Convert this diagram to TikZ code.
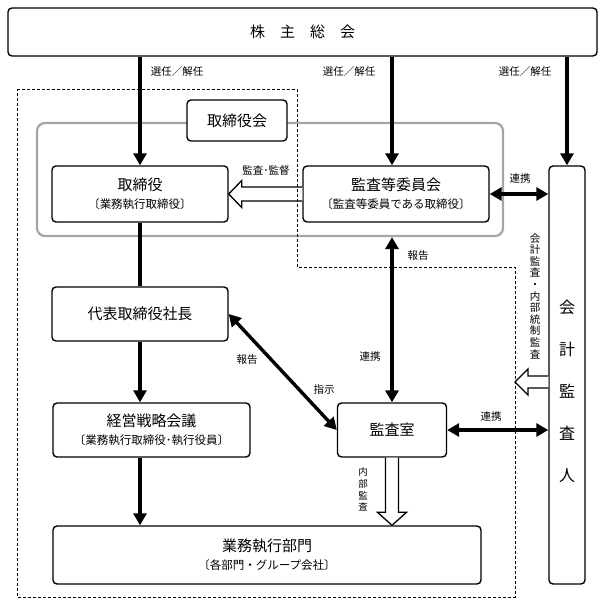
\documentclass[tikz,border=0pt]{standalone}
\usepackage{fontspec}
\setmainfont{Noto Sans CJK JP}
\usetikzlibrary{arrows.meta, calc}
\definecolor{boardline}{RGB}{165,165,165}

\tikzset{
  box/.style={draw, fill=white, line width=1.4pt, rounded corners=4pt, align=center, inner sep=0pt, font=\fontsize{15}{18}\selectfont},
  flow/.style={line width=3.4pt, -{Triangle[length=12pt,width=13pt]}},
  link/.style={line width=3.4pt, {Triangle[length=12pt,width=13pt]}-{Triangle[length=12pt,width=13pt]}},
  hollow/.style={draw, fill=white, line width=1.3pt, line join=miter},
  lbl/.style={font=\fontsize{10.5}{12}\selectfont, inner sep=0pt},
  vtext/.style={align=center, inner sep=0pt}
}
\newcommand\subline[1]{{\fontsize{11.5}{14}\selectfont #1}}

\begin{document}
\begin{tikzpicture}[x=1pt, y=-1pt]
\useasboundingbox (0,0) rectangle (606,605);

% board frame and boxes
\node[box, rounded corners=8pt, draw=boardline, line width=2.2pt, fill=none, minimum width=466pt, minimum height=113pt] (board) at (270,179.5) {};
\node[box, minimum width=589pt, minimum height=48pt] (soukai) at (302.5,32) {株　主　総　会};
\node[box, minimum width=100pt, minimum height=41pt] (torikai) at (237,120.5) {取締役会};
\node[box, minimum width=176pt, minimum height=56pt] (torishimari) at (140,194) {取締役\\\subline{〔業務執行取締役〕}};
\node[box, minimum width=186pt, minimum height=56pt] (kansa) at (396,194) {監査等委員会\\\subline{〔監査等委員である取締役〕}};
\node[box, minimum width=36pt, minimum height=418pt] (kaikei) at (567,375) {};
\node[box, minimum width=176pt, minimum height=54pt] (shacho) at (140,314) {代表取締役社長};
\node[box, minimum width=197pt, minimum height=54pt] (senryaku) at (151.5,430) {経営戦略会議\\\subline{〔業務執行取締役･執行役員〕}};
\node[box, minimum width=109pt, minimum height=54pt] (kansashitsu) at (392,430) {監査室};
\node[box, minimum width=428pt, minimum height=58pt] (gyomu) at (267,555) {業務執行部門\\\subline{〔各部門・グループ会社〕}};

% open arrows
\draw[hollow] ($(kansa.west)+(0,-7)$) -- ($(torishimari.east)+(13,-7)$) -- ($(torishimari.east)+(13,-13.5)$) -- (torishimari.east) -- ($(torishimari.east)+(13,13.5)$) -- ($(torishimari.east)+(13,7)$) -- ($(kansa.west)+(0,7)$);
\coordinate (audit) at (515,382);
\draw[hollow] ($(audit -| kaikei.west)+(0,-6)$) -- ($(audit)+(13,-6)$) -- ($(audit)+(13,-13)$) -- (audit) -- ($(audit)+(13,13)$) -- ($(audit)+(13,6)$) -- ($(audit -| kaikei.west)+(0,6)$);
\draw[hollow] ($(kansashitsu.south)+(-6.5,0)$) -- ($(gyomu.north -| kansashitsu)+(-6.5,-13)$) -- ($(gyomu.north -| kansashitsu)+(-14.5,-13)$) -- (gyomu.north -| kansashitsu) -- ($(gyomu.north -| kansashitsu)+(14.5,-13)$) -- ($(gyomu.north -| kansashitsu)+(6.5,-13)$) -- ($(kansashitsu.south)+(6.5,0)$);

% scope of the executive side
\draw[line width=1pt, dash pattern=on 3pt off 2pt] (17,89) -- (297,89) -- (297,267) -- (515,267) -- (515,597) -- (17,597) -- cycle;

% solid arrows
\draw[flow] (soukai.south -| torishimari) -- (torishimari.north);
\draw[flow] (soukai.south -| kansashitsu) -- (kansa.north -| kansashitsu);
\draw[flow] (soukai.south -| kaikei) -- (kaikei.north);
\draw[line width=3.4pt] (torishimari.south) -- (shacho.north);
\draw[flow] (shacho.south) -- (senryaku.north -| shacho);
\draw[flow] (senryaku.south -| shacho) -- (gyomu.north -| shacho);
\draw[link] (kansa.east) -- (kaikei.west |- kansa.east);
\draw[link] (board.south -| kansashitsu) -- (kansashitsu.north);
\draw[link] (shacho.east) -- (kansashitsu.west);
\draw[link] (kansashitsu.east) -- (kaikei.west |- kansashitsu.east);

% labels
\node[lbl] (sennin1) at (177,72) {選任／解任};
\node[lbl] (sennin2) at (349,72) {選任／解任};
\node[lbl] (sennin3) at (525,72) {選任／解任};
\node[lbl] (kantoku) at (266,171) {監査･監督};
\node[lbl] (renkei1) at (520,179) {連携};
\node[lbl] (hokoku1) at (418,256) {報告};
\node[lbl] (renkei2) at (370,357) {連携};
\node[lbl] (hokoku2) at (247,360) {報告};
\node[lbl] (shiji) at (324,390) {指示};
\node[lbl] (renkei3) at (491,417) {連携};
\node[vtext, font=\fontsize{10.5}{11.6}\selectfont] (kaikeikansa) at (535,296) {会\\計\\監\\査\\・\\内\\部\\統\\制\\監\\査};
\node[vtext, font=\fontsize{9.5}{11.7}\selectfont] (naibu) at (363,489.5) {内\\部\\監\\査};
\node[vtext, font=\fontsize{16}{42}\selectfont] (kaikeiname) at (567,391.5) {会\\計\\監\\査\\人};
\end{tikzpicture}
\end{document}
